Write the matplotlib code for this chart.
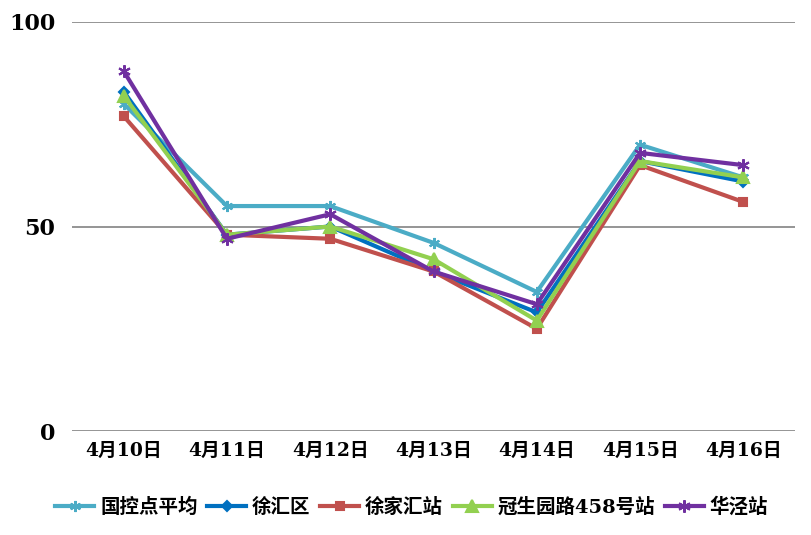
import matplotlib
matplotlib.use("Agg")
import matplotlib.pyplot as plt

plt.rcParams['font.family'] = ['DejaVu Serif', 'Noto Sans CJK SC']
plt.rcParams['font.weight'] = 'bold'

# data
dates = ["4月10日", "4月11日", "4月12日", "4月13日", "4月14日", "4月15日", "4月16日"]
guokong = [80, 55, 55, 46, 34, 70, 62]
xuhui_qu = [83, 48, 50, 39, 29, 66, 61]
xujiahui = [77, 48, 47, 39, 25, 65, 56]
guanshengyuan = [82, 48, 50, 42, 27, 66, 62]
huajing = [88, 47, 53, 39, 31, 68, 65]

series = [
    ("国控点平均", guokong, "#4BACC6", (6, 2, 0), 8),
    ("徐汇区", xuhui_qu, "#0070C0", "D", 5),
    ("徐家汇站", xujiahui, "#C0504D", "s", 6),
    ("冠生园路458号站", guanshengyuan, "#92D050", "^", 8),
    ("华泾站", huajing, "#7030A0", (6, 2, 0), 9),
]

fig = plt.figure(figsize=(8.11, 5.35), dpi=100)
ax = fig.add_axes([72/811, 1 - 431/535, 723/811, 409/535])

x = range(len(dates))
for name, vals, col, mk, ms in series:
    ax.plot(x, vals, color=col, marker=mk, markersize=ms, linewidth=3,
            markeredgewidth=1.5, label=name)

ax.set_xlim(-0.5, len(dates) - 0.5)
ax.set_ylim(0, 100)
ax.set_yticks([0, 50, 100])
ax.set_xticks(list(x))
ax.set_xticklabels(dates)
ax.yaxis.grid(True, color="#8c8c8c", linewidth=1.3)
ax.set_axisbelow(True)
for s in ax.spines.values():
    s.set_visible(False)
ax.tick_params(length=0)
ax.tick_params(axis='y', labelsize=16, pad=12)
ax.tick_params(axis='x', labelsize=13.5, pad=8)
for lab in ax.get_xticklabels() + ax.get_yticklabels():
    lab.set_fontweight('bold')

leg = ax.legend(loc='upper center', bbox_to_anchor=(0.47, -0.12), ncol=5,
                frameon=False, fontsize=14, handlelength=2.0,
                handletextpad=0.3, columnspacing=0.5)
for t in leg.get_texts():
    t.set_fontweight('bold')

fig.savefig("out.png", dpi=100)
